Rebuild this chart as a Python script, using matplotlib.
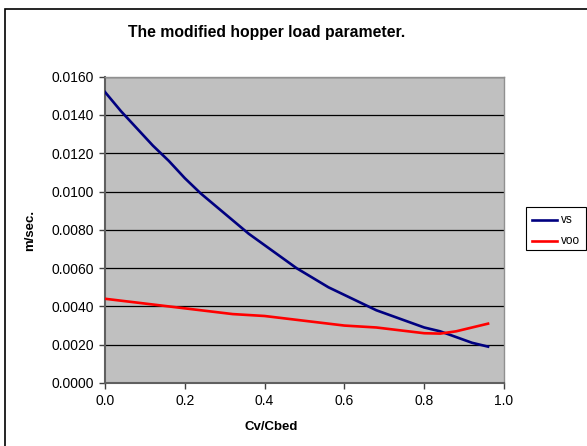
import matplotlib
matplotlib.use("Agg")
import matplotlib.pyplot as plt
from matplotlib.patches import Rectangle
from matplotlib.lines import Line2D

plt.rcParams['font.family'] = ['Liberation Sans', 'DejaVu Sans']

cv_cbed = [0.00, 0.04, 0.08, 0.12, 0.16, 0.20, 0.24, 0.28, 0.32, 0.36, 0.40, 0.44, 0.48,
           0.52, 0.56, 0.60, 0.64, 0.68, 0.72, 0.76, 0.80, 0.84, 0.88, 0.92, 0.96]
vs = [0.0152, 0.0142, 0.0133, 0.0124, 0.0116, 0.0107, 0.0099, 0.0092, 0.0085, 0.0078,
      0.0072, 0.0066, 0.0060, 0.0055, 0.0050, 0.0046, 0.0042, 0.0038, 0.0035, 0.0032,
      0.0029, 0.0027, 0.0024, 0.0021, 0.0019]
voo = [0.0044, 0.0043, 0.0042, 0.0041, 0.0040, 0.0039, 0.0038, 0.0037, 0.0036, 0.00355,
       0.0035, 0.0034, 0.0033, 0.0032, 0.0031, 0.0030, 0.00295, 0.0029, 0.0028, 0.0027,
       0.0026, 0.00258, 0.0027, 0.0029, 0.0031]
y_ticks = [0.0, 0.002, 0.004, 0.006, 0.008, 0.010, 0.012, 0.014, 0.016]
x_ticks = [0.0, 0.2, 0.4, 0.6, 0.8, 1.0]
series_names = ['vs', 'voo']
series_colors = ['#000080', '#FF0000']

W, H = 587, 446
fig = plt.figure(figsize=(W / 100, H / 100), dpi=100)
fig.patch.set_facecolor('white')

# chart area frame, runs off the right and bottom edges
fig.patches.append(Rectangle((5 / W, -0.2), 1.5, 1.2 - 9 / H,
                             transform=fig.transFigure, fill=False,
                             edgecolor='black', linewidth=1.2))

ax = fig.add_axes([105 / W, 1 - 383 / H, 399 / W, (383 - 76.7) / H])
ax.set_facecolor('#C0C0C0')

for vals, name, col in zip([vs, voo], series_names, series_colors):
    ax.plot(cv_cbed, vals, color=col, linewidth=1.9, label=name, zorder=3)

ax.set_xlim(0, 1.0)
ax.set_ylim(0, 0.016)
ax.set_xticks(x_ticks)
ax.set_yticks(y_ticks)
ax.set_xticklabels(['%.1f' % t for t in x_ticks], fontsize=10)
ax.set_yticklabels(['%.4f' % t for t in y_ticks], fontsize=10)
ax.tick_params(axis='both', direction='out', length=4, width=1, color='#404040', pad=4)

ax.grid(axis='y', color='black', linewidth=0.9)
ax.set_axisbelow(True)
for side in ['left', 'bottom']:
    ax.spines[side].set_color('#606060')
    ax.spines[side].set_linewidth(1.5)
for side in ['top', 'right']:
    ax.spines[side].set_color('#909090')
    ax.spines[side].set_linewidth(1.0)

fig.text(267 / W, 1 - 32 / H, 'The modified hopper load parameter.',
         ha='center', va='center', fontsize=11.3, fontweight='bold')
fig.text(271 / W, 1 - 427 / H, 'Cv/Cbed', ha='center', va='center',
         fontsize=9.5, fontweight='bold')
fig.text(30 / W, 1 - 230 / H, 'm/sec.', ha='center', va='center',
         fontsize=9.5, fontweight='bold', rotation=90)

# legend box on the right, built by hand so it sits exactly
fig.patches.append(Rectangle((526 / W, 1 - 250 / H), 60 / W, 43 / H,
                             transform=fig.transFigure, facecolor='white',
                             edgecolor='black', linewidth=0.8))
for i, (name, col) in enumerate(zip(series_names, series_colors)):
    yy = 1 - (220 + 21 * i) / H
    fig.add_artist(Line2D([532 / W, 557 / W], [yy, yy], color=col,
                          linewidth=1.9, transform=fig.transFigure))
    fig.text(561 / W, yy, name, ha='left', va='center', fontsize=8.5)

fig.savefig('out.png', dpi=100)
